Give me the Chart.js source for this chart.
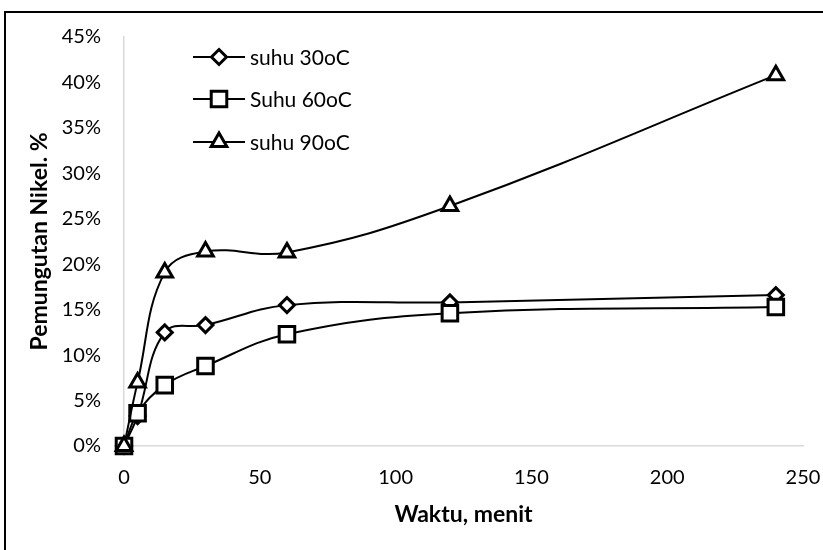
<!DOCTYPE html>
<html>
<head>
<meta charset="utf-8">
<script src="https://cdn.jsdelivr.net/npm/chart.js@4"></script>
<style>
  html, body { margin: 0; padding: 0; background: #ffffff; }
  #wrap { width: 823px; height: 550px; position: relative; }
</style>
</head>
<body>
<div id="wrap"><canvas id="c" width="823" height="550"></canvas></div>
<script>
// ---- data ----
const minutes = [0, 5, 15, 30, 60, 120, 240];
const suhu30 = [0, 3.3, 12.5, 13.3, 15.5, 15.8, 16.6];
const suhu60 = [0, 3.6, 6.7, 8.8, 12.3, 14.6, 15.3];
const suhu90 = [0, 7.0, 19.1, 21.4, 21.3, 26.4, 40.8];
const seriesNames = ['suhu 30oC', 'Suhu 60oC', 'suhu 90oC'];
const yTicks = [0, 5, 10, 15, 20, 25, 30, 35, 40, 45];
const xTicks = [0, 50, 100, 150, 200, 250];
const xTitle = 'Waktu, menit';
const yTitle = 'Pemungutan Nikel. %';

const FONT = 'Lato, "Liberation Sans", sans-serif';

function toPoints(xs, ys) { return xs.map((x, i) => ({ x: x, y: ys[i] })); }

function drawMarker(ctx, style, x, y, r) {
  ctx.beginPath();
  if (style === 'rectRot') {
    ctx.moveTo(x, y - r); ctx.lineTo(x + r, y); ctx.lineTo(x, y + r); ctx.lineTo(x - r, y);
  } else if (style === 'rect') {
    const s = Math.SQRT1_2 * r;
    ctx.rect(x - s, y - s, 2 * s, 2 * s);
  } else if (style === 'triangle') {
    const a = Math.PI * 2 / 3;
    ctx.moveTo(x, y - r);
    ctx.lineTo(x + Math.sin(a) * r, y - Math.cos(a) * r);
    ctx.lineTo(x - Math.sin(a) * r, y - Math.cos(a) * r);
  }
  ctx.closePath();
  ctx.fillStyle = '#ffffff';
  ctx.fill();
  ctx.stroke();
}

const markerInfo = [
  { style: 'rectRot', r: 7.5 },
  { style: 'rect', r: 11 },
  { style: 'triangle', r: 9 }
];

const frameAndLegend = {
  id: 'frameAndLegend',
  beforeDraw(chart) {
    const ctx = chart.ctx;
    ctx.save();
    ctx.fillStyle = '#ffffff';
    ctx.fillRect(0, 0, chart.width, chart.height);
    ctx.restore();
  },
  afterDraw(chart) {
    const ctx = chart.ctx;
    ctx.save();
    // outer frame (extends past right/bottom edges)
    ctx.strokeStyle = '#000000';
    ctx.lineWidth = 2;
    ctx.strokeRect(5, 12, 1000, 1000);
    // legend
    const rows = [57, 99, 142];
    ctx.font = '21px ' + FONT;
    ctx.textBaseline = 'middle';
    ctx.textAlign = 'left';
    ctx.lineJoin = 'miter';
    seriesNames.forEach((name, i) => {
      const y = rows[i];
      ctx.strokeStyle = '#000000';
      ctx.lineWidth = 2;
      ctx.beginPath();
      ctx.moveTo(193, y); ctx.lineTo(245, y);
      ctx.stroke();
      ctx.lineWidth = 3;
      drawMarker(ctx, markerInfo[i].style, 219, y, markerInfo[i].r);
      ctx.fillStyle = '#000000';
      ctx.fillText(name, 250, y + 1);
    });
    ctx.restore();
  }
};

const dsCommon = {
  borderColor: '#000000',
  borderWidth: 2,
  pointBackgroundColor: '#ffffff',
  pointBorderColor: '#000000',
  pointBorderWidth: 3,
  pointHoverRadius: 8,
  tension: 0.4,
  fill: false,
  clip: false
};

new Chart(document.getElementById('c'), {
  type: 'line',
  data: {
    datasets: [
      Object.assign({}, dsCommon, { label: seriesNames[0], data: toPoints(minutes, suhu30), pointStyle: 'rectRot', pointRadius: markerInfo[0].r, order: 2 }),
      Object.assign({}, dsCommon, { label: seriesNames[1], data: toPoints(minutes, suhu60), pointStyle: 'rect', pointRadius: markerInfo[1].r, order: 1 }),
      Object.assign({}, dsCommon, { label: seriesNames[2], data: toPoints(minutes, suhu90), pointStyle: 'triangle', pointRadius: markerInfo[2].r, order: 0 })
    ]
  },
  options: {
    responsive: false,
    animation: false,
    devicePixelRatio: 1,
    layout: { padding: { top: 37, right: 20, left: 0, bottom: 0 } },
    plugins: {
      legend: { display: false },
      tooltip: { enabled: false },
      title: { display: false }
    },
    scales: {
      x: {
        type: 'linear',
        min: 0, max: 250,
        afterBuildTicks(scale) { scale.ticks = xTicks.map(v => ({ value: v })); },
        afterFit(scale) { scale.height = 104; scale.paddingLeft = 0; scale.paddingRight = 0; },
        grid: { display: false, drawTicks: false },
        border: { display: true, color: '#d9d9d9', width: 1.5 },
        ticks: { color: '#000000', font: { family: FONT, size: 20 }, padding: 20, maxRotation: 0 },
        title: { display: true, text: xTitle, color: '#000000', font: { family: FONT, size: 23, weight: 'bold' }, padding: { top: 0, bottom: 22 } }
      },
      y: {
        type: 'linear',
        min: 0, max: 45,
        afterBuildTicks(scale) { scale.ticks = yTicks.map(v => ({ value: v })); },
        afterFit(scale) { scale.width = 124; scale.paddingTop = 0; scale.paddingBottom = 0; },
        grid: { display: false, drawTicks: false },
        border: { display: true, color: '#d9d9d9', width: 1.5 },
        ticks: { color: '#000000', font: { family: FONT, size: 20 }, padding: 23, callback: v => v + '%' },
        title: { display: true, text: yTitle, color: '#000000', font: { family: FONT, size: 23, weight: 'bold' }, padding: { top: 26, bottom: 0 } }
      }
    }
  },
  plugins: [frameAndLegend]
});
</script>
</body>
</html>
